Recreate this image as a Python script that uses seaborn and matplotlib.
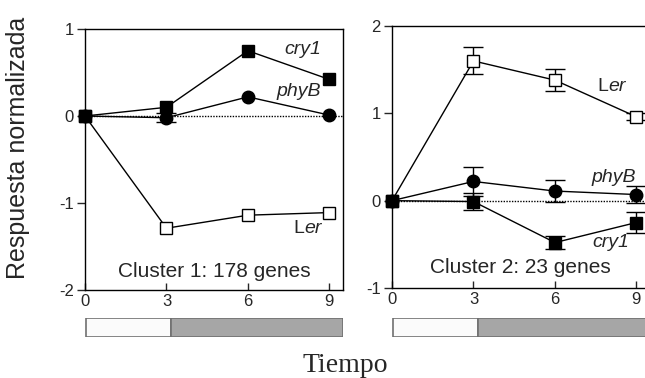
import numpy as np
import pandas as pd
import matplotlib
matplotlib.use("Agg")
import matplotlib.pyplot as plt
import seaborn as sns

sns.set_style("ticks")
plt.rcParams["font.family"] = ["Liberation Sans", "DejaVu Sans"]
plt.rcParams["axes.unicode_minus"] = False

# Sampling times (h)
tiempo = [0, 3, 6, 9]

# Cluster 1: 178 genes (most error bars are smaller than the symbols)
c1_cry1 = [0.0, 0.10, 0.75, 0.42]
c1_cry1_err = [0.0, 0.0, 0.0, 0.0]
c1_phyB = [0.0, -0.02, 0.22, 0.01]
c1_phyB_err = [0.0, 0.05, 0.0, 0.0]
c1_Ler = [0.0, -1.29, -1.14, -1.11]
c1_Ler_err = [0.0, 0.0, 0.0, 0.0]

# Cluster 2: 23 genes
c2_Ler = [0.0, 1.60, 1.38, 0.96]
c2_Ler_err = [0.0, 0.155, 0.125, 0.04]
c2_phyB = [0.0, 0.22, 0.11, 0.07]
c2_phyB_err = [0.0, 0.17, 0.13, 0.10]
c2_cry1 = [0.0, -0.01, -0.48, -0.25]
c2_cry1_err = [0.0, 0.10, 0.07, 0.12]

# Light / dark periods shown under each panel
periodo_inicio = [0.0, 3.15]
periodo_fin = [3.15, 9.5]
periodo_color = ["#fbfbfb", "#a6a6a6"]

estilos = {
    "cry1": dict(marker="s", markerfacecolor="black"),
    "phyB": dict(marker="o", markerfacecolor="black"),
    "Ler": dict(marker="s", markerfacecolor="white"),
}

fig = plt.figure(figsize=(6.45, 3.78), dpi=100)

ax1 = fig.add_axes([85 / 645, 88 / 378, 258 / 645, 261 / 378])
ax2 = fig.add_axes([392 / 645, 90 / 378, 258 / 645, 262 / 378])


def draw_series(ax, vals, errs, name, z):
    df = pd.DataFrame({"t": tiempo, "v": vals, "e": errs})
    con_error = df[df["e"] > 0]
    if len(con_error):
        ax.errorbar(con_error["t"], con_error["v"], yerr=con_error["e"],
                    fmt="none", ecolor="black", elinewidth=1.0, capsize=7,
                    capthick=1.0, zorder=2)
    sns.lineplot(data=df, x="t", y="v", ax=ax, color="black", linewidth=1.0,
                 markersize=9, markeredgecolor="black", markeredgewidth=1.0,
                 zorder=z, clip_on=False, **estilos[name])


for ax, series, ylim, yt in [
    (ax1, [(c1_Ler, c1_Ler_err, "Ler"), (c1_phyB, c1_phyB_err, "phyB"),
           (c1_cry1, c1_cry1_err, "cry1")], (-2, 1), [-2, -1, 0, 1]),
    (ax2, [(c2_Ler, c2_Ler_err, "Ler"), (c2_phyB, c2_phyB_err, "phyB"),
           (c2_cry1, c2_cry1_err, "cry1")], (-1, 2), [-1, 0, 1, 2]),
]:
    ax.axhline(0, color="black", lw=1.0, ls=(0, (1.0, 1.0)), zorder=1)
    for k, (vals, errs, name) in enumerate(series):
        draw_series(ax, vals, errs, name, 3 + k)
    ax.set_xlim(0, 9.5)
    ax.set_ylim(*ylim)
    ax.set_xticks(tiempo)
    ax.set_yticks(yt)
    ax.set_xlabel("")
    ax.set_ylabel("")
    for s in ax.spines.values():
        s.set_visible(True)
        s.set_linewidth(1.0)
        s.set_color("black")
    ax.tick_params(axis="y", direction="out", length=6, width=1.0,
                   labelsize=12, pad=2)
    ax.tick_params(axis="x", direction="in", length=5, width=1.0,
                   labelsize=12, pad=3)

# Gene labels
it = dict(fontsize=14, style="italic", ha="right", va="center")
ax1.text(8.7, 0.76, "cry1", **it)
ax1.text(8.7, 0.28, "phyB", **it)
ax1.text(8.7, -1.29, "L", fontsize=14, ha="right", va="center")
ax1.text(8.7, -1.29, "er", **it)
ax1.text(4.76, -1.79, "Cluster 1: 178 genes", fontsize=15, ha="center", va="center")

ax2.text(8.6, 1.31, "L", fontsize=14, ha="right", va="center")
ax2.text(8.6, 1.31, "er", **it)
ax2.text(9.0, 0.26, "phyB", **it)
ax2.text(8.75, -0.48, "cry1", **it)
ax2.text(4.74, -0.77, "Cluster 2: 23 genes", fontsize=15, ha="center", va="center")

# Place "L" so that the italic "er" follows it
fig.canvas.draw()
for ax in (ax1, ax2):
    texts = [t for t in ax.texts if t.get_text() in ("L", "er")]
    L, er = texts[0], texts[1]
    bb = er.get_window_extent()
    x_left = ax.transData.inverted().transform((bb.x0, bb.y0))[0]
    L.set_position((x_left, L.get_position()[1]))

# Light/dark period bars
for ax in (ax1, ax2):
    pos = ax.get_position()
    bax = fig.add_axes([pos.x0, 41 / 378, pos.width, 19 / 378])
    for a, b, c in zip(periodo_inicio, periodo_fin, periodo_color):
        bax.barh(0, b - a, left=a, height=1, color=c, edgecolor="#707070",
                 linewidth=1.2)
    bax.set_xlim(-0.02, 9.5)
    bax.set_ylim(-0.5, 0.5)
    bax.axis("off")

fig.text(18 / 645, 1 - 148 / 378, "Respuesta normalizada", rotation=90,
         fontsize=18, ha="center", va="center")
fig.text(345 / 645, 6 / 378, "Tiempo", fontsize=20, ha="center",
         va="baseline", family=["Liberation Serif", "DejaVu Serif"])

fig.savefig("out.png", dpi=100)
